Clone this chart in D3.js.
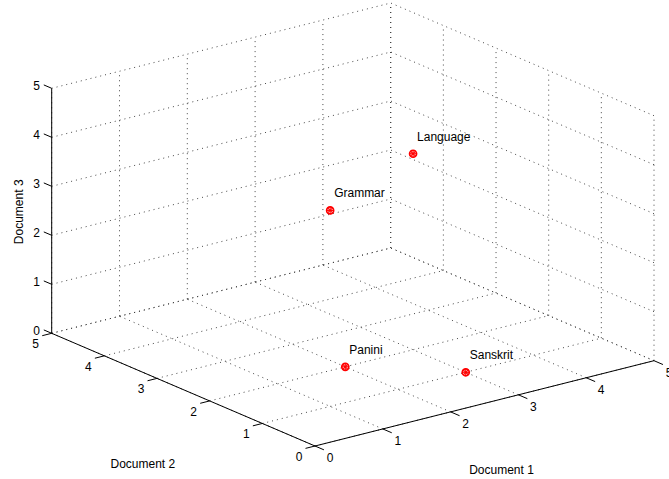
<!DOCTYPE html>
<html><head><meta charset="utf-8">
<script src="https://cdn.jsdelivr.net/npm/d3@7"></script>
<style>
body{margin:0;background:#fff}
svg{display:block}
text{font-family:"Liberation Sans",Arial,Helvetica,sans-serif;font-size:12px;fill:#000}
</style>
</head><body>
<svg id="c" width="669" height="479"></svg>
<script>
// ---- data ----
const terms = ["Grammar", "Language", "Panini", "Sanskrit"];
const doc1 = [1, 3, 2, 3];
const doc2 = [1, 2, 2, 1];
const doc3 = [4, 4, 0, 0];
const ticks1 = [0, 1, 2, 3, 4, 5];
const ticks2 = [0, 1, 2, 3, 4, 5];
const ticks3 = [0, 1, 2, 3, 4, 5];
const axisTitles = ["Document 1", "Document 2", "Document 3"];

// ---- projection (view geometry) ----
const svg = d3.select("#c");
const origin = [315, 446];
const ex = [339, -85.3], ey = [-263.3, -112.7], ez = [0, -245];
const sx = d3.scaleLinear().domain([0, 5]).range([0, 1]);
const sy = d3.scaleLinear().domain([0, 5]).range([0, 1]);
const sz = d3.scaleLinear().domain([0, 5]).range([0, 1]);
function P(x, y, z) {
  const a = sx(x), b = sy(y), c = sz(z);
  return [origin[0] + a*ex[0] + b*ey[0] + c*ez[0],
          origin[1] + a*ex[1] + b*ey[1] + c*ez[1]];
}
const line = d3.line();
const xMax = 5, yMax = 5, zMax = 5;

// ---- grid ----
const grid = [];
ticks1.forEach(t => {
  grid.push([P(t, 0, 0), P(t, yMax, 0)]);
  grid.push([P(t, yMax, 0), P(t, yMax, zMax)]);
});
ticks2.forEach(t => {
  grid.push([P(0, t, 0), P(xMax, t, 0)]);
  grid.push([P(xMax, t, 0), P(xMax, t, zMax)]);
});
ticks3.forEach(t => {
  grid.push([P(0, yMax, t), P(xMax, yMax, t)]);
  grid.push([P(xMax, 0, t), P(xMax, yMax, t)]);
});
svg.append("g").selectAll("path").data(grid).join("path")
  .attr("d", d => line(d))
  .attr("fill", "none").attr("stroke", "#333").attr("stroke-width", 0.9)
  .attr("stroke-dasharray", "1,4");

// ---- axes ----
const axes = [
  [P(0, 0, 0), P(xMax, 0, 0)],
  [P(0, 0, 0), P(0, yMax, 0)],
  [P(0, yMax, 0), P(0, yMax, zMax)]
];
const tickSegs = [];
ticks1.forEach(t => tickSegs.push([P(t, 0, 0), P(t, -0.17, 0)]));
ticks2.forEach(t => tickSegs.push([P(0, t, 0), P(-0.14, t, 0)]));
ticks3.forEach(t => tickSegs.push([P(0, yMax, t), P(0, yMax + 0.15, t)]));
svg.append("g").selectAll("path").data(axes.concat(tickSegs)).join("path")
  .attr("d", d => line(d))
  .attr("fill", "none").attr("stroke", "#000").attr("stroke-width", 1);

// ---- tick labels ----
const lab = svg.append("g").attr("text-anchor", "middle");
ticks1.forEach(t => { const p = P(t, 0, 0);
  lab.append("text").attr("x", p[0] + 15).attr("y", p[1] + 12).attr("dy", "0.36em").text(t); });
ticks2.forEach(t => { const p = P(0, t, 0);
  lab.append("text").attr("x", p[0] - 16).attr("y", p[1] + 10.5).attr("dy", "0.36em").text(t); });
ticks3.forEach(t => { const p = P(0, yMax, t);
  lab.append("text").attr("x", p[0] - 15).attr("y", p[1] - 2.7).attr("dy", "0.36em").text(t); });

// ---- axis titles ----
{
  const p1 = P(xMax / 2, 0, 0);
  lab.append("text").attr("x", p1[0] + 17).attr("y", p1[1] + 70.6).text(axisTitles[0]);
  const p2 = P(0, yMax / 2, 0);
  lab.append("text").attr("x", p2[0] - 40.5).attr("y", p2[1] + 78.5).text(axisTitles[1]);
  const p3 = P(0, yMax, zMax / 2);
  lab.append("text").attr("transform", `translate(${p3[0] - 28.5},${p3[1] + 1}) rotate(-90)`).text(axisTitles[2]);
}

// ---- points ----
const pts = terms.map((n, i) => ({ name: n, p: P(doc1[i], doc2[i], doc3[i]) }));
const g = svg.append("g");
pts.forEach(d => {
  const [cx, cy] = d.p;
  g.append("circle").attr("cx", cx).attr("cy", cy).attr("r", 3.5)
    .attr("fill", "none").attr("stroke", "#f00").attr("stroke-width", 1.7);
  const r = 3.8, r2 = r * 0.72;
  const star = [[[cx - r, cy], [cx + r, cy]], [[cx, cy - r], [cx, cy + r]],
                [[cx - r2, cy - r2], [cx + r2, cy + r2]], [[cx - r2, cy + r2], [cx + r2, cy - r2]]];
  star.forEach(s => g.append("path").attr("d", line(s)).attr("stroke", "#f00").attr("stroke-width", 1.1));
  g.append("text").attr("x", cx + 4).attr("y", cy - 13).text(d.name);
});
</script>
</body></html>
